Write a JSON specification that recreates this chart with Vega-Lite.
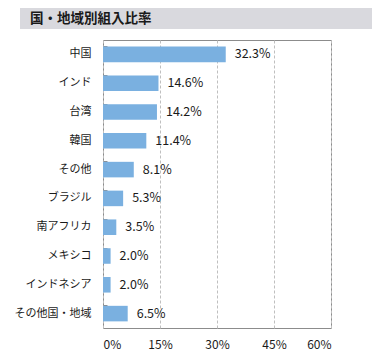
{
  "$schema": "https://vega.github.io/schema/vega-lite/v6.json",
  "padding": {"left": 13, "top": 8, "right": 5, "bottom": 5},
  "background": "white",
  "config": {
    "font": "Noto Sans CJK JP"
  },
  "spacing": 10,
  "vconcat": [
    {
      "width": 269,
      "height": 21,
      "view": {"stroke": null},
      "data": {"values": [{"t": "国・地域別組入比率"}]},
      "layer": [
        {
          "mark": {"type": "rect", "color": "#D9D9DE"},
          "encoding": {
            "x": {"datum": -83, "type": "quantitative", "scale": {"domain": [0, 269], "nice": false, "zero": false}, "axis": null},
            "x2": {"datum": 269}
          }
        },
        {
          "mark": {"type": "text", "align": "left", "baseline": "middle", "fontSize": 13.5, "fontWeight": "bold", "color": "#1a1a1a"},
          "encoding": {
            "text": {"field": "t"},
            "x": {"datum": -73, "type": "quantitative"}
          }
        }
      ]
    },
    {
      "width": 228,
      "height": 288,
      "view": {"stroke": "#8C8C8C", "strokeWidth": 1},
      "data": {
        "values": [
          {"region": "中国", "share": 32.3, "label": "32.3%"},
          {"region": "インド", "share": 14.6, "label": "14.6%"},
          {"region": "台湾", "share": 14.2, "label": "14.2%"},
          {"region": "韓国", "share": 11.4, "label": "11.4%"},
          {"region": "その他", "share": 8.1, "label": "8.1%"},
          {"region": "ブラジル", "share": 5.3, "label": "5.3%"},
          {"region": "南アフリカ", "share": 3.5, "label": "3.5%"},
          {"region": "メキシコ", "share": 2.0, "label": "2.0%"},
          {"region": "インドネシア", "share": 2.0, "label": "2.0%"},
          {"region": "その他国・地域", "share": 6.5, "label": "6.5%"}
        ]
      },
      "encoding": {
        "y": {
          "field": "region",
          "type": "nominal",
          "sort": null,
          "title": null,
          "scale": {"paddingInner": 0.46, "paddingOuter": 0.23},
          "axis": {
            "domain": false,
            "bandPosition": 0,
            "ticks": true,
            "tickSize": -4,
            "tickColor": "#8C8C8C",
            "labelPadding": 16,
            "labelFontSize": 11,
            "labelColor": "#1a1a1a",
            "minExtent": 88,
            "maxExtent": 88
          }
        },
        "x": {
          "field": "share",
          "type": "quantitative",
          "title": null,
          "scale": {"domain": [0, 60], "nice": false},
          "axis": {
            "values": [0, 15, 30, 45, 60],
            "labelExpr": "datum.value + '%'",
            "domain": false,
            "ticks": false,
            "labelPadding": 11,
            "labelFontSize": 12,
            "labelColor": "#1a1a1a",
            "grid": true,
            "gridColor": "#BFBFBF",
            "gridDash": [3, 2],
            "gridWidth": 1
          }
        }
      },
      "layer": [
        {"mark": {"type": "bar", "color": "#7AB0E0"}},
        {
          "mark": {"type": "text", "align": "left", "baseline": "middle", "dx": 9, "fontSize": 12.5, "color": "#1a1a1a"},
          "encoding": {"text": {"field": "label"}}
        }
      ]
    }
  ]
}
